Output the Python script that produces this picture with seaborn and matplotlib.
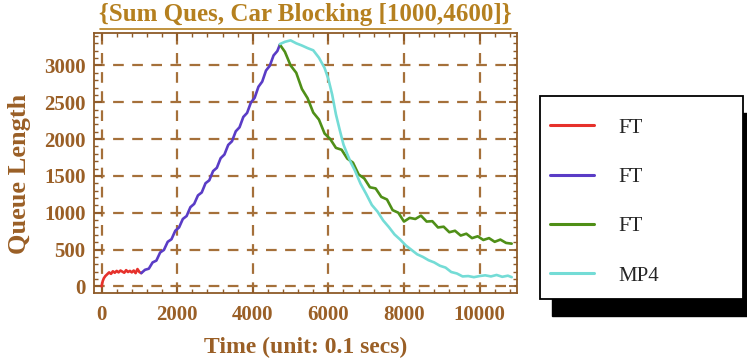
import numpy as np
import pandas as pd
import matplotlib
matplotlib.use("Agg")
import matplotlib.pyplot as plt
from matplotlib.patches import Rectangle
from matplotlib.lines import Line2D
from matplotlib.ticker import MultipleLocator
import seaborn as sns

# ---------------- data ----------------
red_x = [0, 30, 60, 100, 150, 200, 250, 300, 350, 400, 450, 500, 550, 600, 650,
         700, 750, 800, 850, 900, 950, 1000, 1050]
red_y = [0, 70, 110, 140, 165, 190, 170, 205, 185, 210, 190, 215, 200, 185, 220,
         195, 210, 190, 215, 180, 235, 195, 180]

blue_x = [1050, 1150, 1250, 1350, 1450, 1550, 1650, 1750, 1850, 1950, 2050, 2150,
          2250, 2350, 2450, 2550, 2650, 2750, 2850, 2950, 3050, 3150, 3250, 3350,
          3450, 3550, 3650, 3750, 3850, 3950, 4050, 4150, 4250, 4350, 4450, 4550,
          4650, 4720]
blue_y = [180, 225, 240, 325, 350, 460, 495, 605, 640, 755, 800, 915, 955, 1075,
          1120, 1235, 1275, 1400, 1440, 1565, 1610, 1740, 1790, 1920, 1970, 2105,
          2160, 2300, 2355, 2495, 2560, 2710, 2780, 2930, 2995, 3135, 3195, 3285]

green_x = [4720, 4850, 5000, 5150, 5300, 5450, 5600, 5750, 5900, 6050, 6200, 6350,
           6500, 6650, 6800, 6950, 7100, 7250, 7400, 7550, 7700, 7850, 8000, 8150,
           8300, 8450, 8600, 8750, 8900, 9050, 9200, 9350, 9500, 9650, 9800, 9950,
           10100, 10250, 10400, 10550, 10700, 10850]
green_y = [3280, 3185, 3000, 2900, 2680, 2555, 2360, 2265, 2075, 2000, 1880, 1855,
           1735, 1680, 1520, 1465, 1345, 1330, 1215, 1180, 1035, 1000, 880, 930,
           915, 960, 880, 885, 800, 810, 735, 755, 690, 715, 655, 680, 630, 655,
           605, 635, 590, 580]

cyan_x = [4720, 4850, 5000, 5150, 5300, 5450, 5600, 5750, 5900, 6000, 6100, 6200,
          6300, 6400, 6500, 6600, 6700, 6850, 7000, 7150, 7300, 7450, 7600, 7750,
          7900, 8050, 8200, 8350, 8500, 8650, 8800, 8950, 9100, 9250, 9400, 9550,
          9700, 9850, 10000, 10150, 10300, 10450, 10600, 10750, 10850]
cyan_y = [3290, 3320, 3340, 3300, 3270, 3235, 3205, 3105, 2965, 2815, 2605, 2335,
          2125, 1925, 1795, 1675, 1575, 1395, 1255, 1105, 1015, 895, 805, 705, 635,
          555, 495, 435, 400, 355, 325, 280, 255, 195, 175, 135, 140, 125, 140, 150,
          135, 155, 130, 145, 125]

series_labels = ["FT", "FT", "FT", "MP4"]
x_ticks = [0, 2000, 4000, 6000, 8000, 10000]
y_ticks = [0, 500, 1000, 1500, 2000, 2500, 3000]

# ---------------- style ----------------
sns.set_style("ticks")
plt.rcParams["font.family"] = ["Liberation Serif", "DejaVu Serif"]

brown = "#8e5a28"
label_c = "#9a5f26"
grid_c = "#a5703a"
title_c = "#b5801f"
colors = ["#e6312b", "#5a3cc6", "#4f8f17", "#74dcd6"]

W, H = 747, 363
fig = plt.figure(figsize=(W / 100, H / 100), dpi=100)
ax = fig.add_axes([94 / W, 1 - 293 / H, (517 - 94) / W, (293 - 33) / H])

xs = [red_x, blue_x, green_x, cyan_x]
ys = [red_y, blue_y, green_y, cyan_y]
for i, (x, y) in enumerate(zip(xs, ys)):
    df = pd.DataFrame({"t": x, "q": y})
    sns.lineplot(data=df, x="t", y="q", ax=ax, color=colors[i], lw=1.9,
                 estimator=None, sort=False, legend=False, zorder=3)

ax.set_xlim(-200, 10990)
ax.set_ylim(-90, 3440)
ax.set_xticks(x_ticks)
ax.set_yticks(y_ticks)
ax.xaxis.set_minor_locator(MultipleLocator(400))
ax.yaxis.set_minor_locator(MultipleLocator(100))
ax.grid(True, which="major", color=grid_c, lw=1.6, ls=(0, (4.8, 3.8)), zorder=1)
for s in ax.spines.values():
    s.set_color(brown)
    s.set_linewidth(1.3)
ax.tick_params(which="both", direction="in", top=True, right=True, color=brown,
               labelcolor=label_c, labelsize=15)
ax.tick_params(which="major", length=6, width=1.2)
ax.tick_params(axis="y", which="major", pad=6)
ax.tick_params(axis="x", which="major", pad=9)
ax.tick_params(which="minor", length=3, width=1.0)
for lab in ax.get_xticklabels() + ax.get_yticklabels():
    lab.set_fontweight("bold")
ax.set_xlabel("Time (unit: 0.1 secs)", fontsize=17, fontweight="bold",
              color=label_c, labelpad=8)
ax.set_ylabel("Queue Length", fontsize=19, fontweight="bold", color=label_c)
ax.yaxis.set_label_coords(-0.148, 0.46)

# title with underline
fig.text(305 / W, 1 - 15 / H, "{Sum Ques, Car Blocking [1000,4600]}",
         ha="center", va="center", fontsize=18, fontweight="bold", color=title_c)
fig.add_artist(Line2D([100 / W, 511 / W], [1 - 28.5 / H, 1 - 28.5 / H],
                      transform=fig.transFigure, color=title_c, lw=1.2))

# legend box with shadow
bx0, by0, bx1, by1 = 540, 96, 743, 299
fig.add_artist(Rectangle(((bx0 + 12) / W, 1 - (by1 + 17) / H), (bx1 - bx0) / W,
                         (by1 - by0) / H, transform=fig.transFigure,
                         facecolor="black", edgecolor="black", zorder=1))
fig.add_artist(Rectangle((bx0 / W, 1 - by1 / H), (bx1 - bx0) / W,
                         (by1 - by0) / H, transform=fig.transFigure,
                         facecolor="white", edgecolor="black", lw=1.3, zorder=2))
handles = [Line2D([], [], color=c, lw=2.2) for c in colors]
leg = fig.legend(handles, series_labels, loc="upper left",
                 bbox_to_anchor=(550 / W, 1 - 118 / H), frameon=False,
                 fontsize=15, handlelength=2.1, handletextpad=1.2,
                 labelspacing=1.43, borderpad=0, borderaxespad=0)
leg.set_zorder(3)

fig.savefig("out.png", dpi=100)
